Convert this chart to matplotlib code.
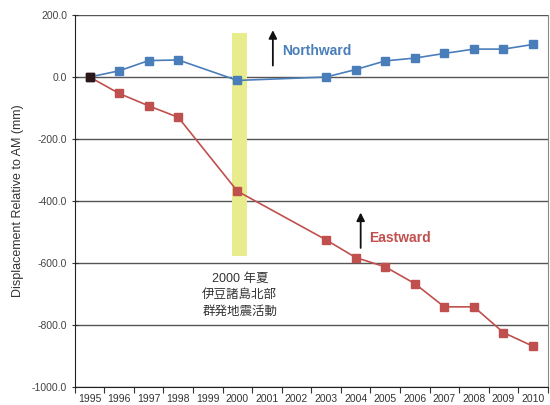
import matplotlib.pyplot as plt
import numpy as np

plt.rcParams['font.family'] = ['Liberation Sans', 'Noto Sans CJK JP', 'DejaVu Sans']

years = [1995, 1996, 1997, 1998, 1999, 2000, 2001, 2002, 2003, 2004, 2005,
         2006, 2007, 2008, 2009, 2010]
# NaN = no observation that year (line joins neighbours)
northward = [0, 20, 53, 55, np.nan, -11, np.nan, np.nan, 0, 24, 52, 61, 76, 90, 90, 105]
eastward = [0, -53, -93, -130, np.nan, -368, np.nan, np.nan, -525, -582, -612,
            -666, -741, -741, -824, -868]
yticks = [200, 0, -200, -400, -600, -800, -1000]

blue = '#4a7ebb'
red = '#c0504d'

fig = plt.figure(figsize=(5.5, 4.05), dpi=100)
ax = fig.add_axes([0.136, 0.044, 0.86, 0.919])

x = np.arange(len(years))
n = np.array(northward, dtype=float)
e = np.array(eastward, dtype=float)
mn = ~np.isnan(n)
me = ~np.isnan(e)

for yv in yticks:
    ax.axhline(yv, color='#555555', lw=1.0, zorder=1)

# 2000 event band
ax.fill_between([4.83, 5.33], [-578, -578], [143, 143], color='#e8ec8c', zorder=2, lw=0)

ax.plot(x[me], e[me], color=red, lw=1.2, marker='s', ms=5.5, zorder=3)
ax.plot(x[mn], n[mn], color=blue, lw=1.2, marker='s', ms=5.5, zorder=4)
ax.plot(x[0], n[0], color='#2a1818', marker='s', ms=5.5, zorder=5, ls='none')

ax.annotate('', xy=(6.2, 160), xytext=(6.2, 28),
            arrowprops=dict(arrowstyle='-|>', color='#111111', lw=1.3, mutation_scale=12))
ax.text(6.5, 85, 'Northward', color=blue, fontsize=10, fontweight='bold', va='center')
ax.annotate('', xy=(9.17, -428), xytext=(9.17, -560),
            arrowprops=dict(arrowstyle='-|>', color='#111111', lw=1.3, mutation_scale=12))
ax.text(9.45, -520, 'Eastward', color=red, fontsize=10, fontweight='bold', va='center')

ax.text(5.08, -703, '2000 年夏\n伊豆諸島北部\n群発地震活動', ha='center', va='center',
        fontsize=9, color='#333333', linespacing=1.5)

ax.set_xlim(-0.5, len(years) - 0.5)
ax.set_ylim(-1000, 200)
ax.set_yticks(yticks)
ax.set_yticklabels([f'{v:.1f}' for v in yticks], fontsize=7.5, color='#444444')
ax.set_xticks(np.arange(len(years) + 1) - 0.5)
ax.set_xticklabels([])
ax.set_xticks(x, minor=True)
ax.set_xticklabels([str(y) for y in years], minor=True, fontsize=7.5, color='#333333')
ax.tick_params(axis='x', which='major', length=4, direction='out', color='#333333')
ax.tick_params(axis='x', which='minor', length=0, pad=5)
ax.tick_params(axis='y', length=4, direction='inout', color='#333333')

ax.spines['top'].set_visible(False)
ax.spines['right'].set_color('#888888')
ax.spines['left'].set_color('#222222')
ax.spines['bottom'].set_color('#222222')
ax.set_ylabel('Displacement Relative to AM (mm)', fontsize=9, color='#333333', labelpad=6)

fig.savefig('out.png', dpi=100)
